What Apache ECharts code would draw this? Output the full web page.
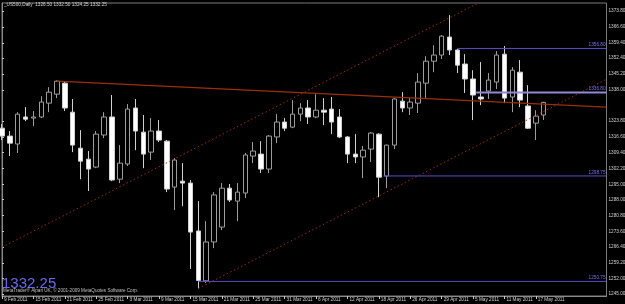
<!DOCTYPE html>
<html><head><meta charset="utf-8">
<script src="https://cdn.jsdelivr.net/npm/echarts@6/dist/echarts.min.js"></script>
<style>html,body{margin:0;padding:0;background:#000;overflow:hidden}#c{width:625px;height:304px}</style>
</head><body><div id="c"></div><script>
const symbolName = '_US500,Daily';
const copyrightText = 'MetaTrader® Alpari UK, © 2001-2009 MetaQuotes Software Corp.';
const dates = [
 '2011-02-09','2011-02-10','2011-02-11','2011-02-14','2011-02-15','2011-02-16','2011-02-17','2011-02-18','2011-02-21','2011-02-22','2011-02-23','2011-02-24','2011-02-25','2011-02-28',
 '2011-03-01','2011-03-02','2011-03-03','2011-03-04','2011-03-07','2011-03-08','2011-03-09','2011-03-10','2011-03-11','2011-03-14','2011-03-15','2011-03-16','2011-03-17','2011-03-18','2011-03-21','2011-03-22','2011-03-23','2011-03-24','2011-03-25','2011-03-28','2011-03-29','2011-03-30','2011-03-31',
 '2011-04-01','2011-04-04','2011-04-05','2011-04-06','2011-04-07','2011-04-08','2011-04-11','2011-04-12','2011-04-13','2011-04-14','2011-04-15','2011-04-18','2011-04-19','2011-04-20','2011-04-21','2011-04-25','2011-04-26','2011-04-27','2011-04-28','2011-04-29',
 '2011-05-02','2011-05-03','2011-05-04','2011-05-05','2011-05-06','2011-05-09','2011-05-10','2011-05-11','2011-05-12','2011-05-13','2011-05-16','2011-05-17','2011-05-18'
];
const futureSlots = ['f1','f2','f3','f4','f5','f6','f7','f8'];
const opens  = [1320.5,1316.9,1313.3,1325.6,1325.1,1325.6,1331.9,1336.0,1341.0,1327.8,1311.4,1306.4,1302.8,1317.4,1325.6,1297.3,1304.2,1329.7,1318.7,1309.6,1319.2,1314.6,1293.7,1296.4,1295.5,1273.7,1251.0,1268.7,1275.5,1293.2,1287.3,1291.0,1307.8,1308.7,1301.9,1316.5,1323.3,1321.0,1326.9,1329.7,1325.6,1328.7,1329.2,1325.6,1316.5,1308.7,1307.4,1311.0,1317.8,1298.7,1312.8,1332.8,1329.7,1331.9,1341.0,1351.0,1353.8,1362.0,1356.1,1349.7,1342.9,1334.7,1337.4,1341.5,1354.2,1334.7,1346.0,1330.6,1322.8,1326.50];
const closes = [1316.9,1313.7,1326.9,1324.6,1325.6,1332.4,1336.9,1341.9,1329.7,1312.8,1305.5,1301.9,1317.8,1325.6,1296.9,1304.6,1329.2,1319.2,1308.7,1319.2,1315.1,1292.8,1306.0,1295.5,1273.2,1251.2,1268.7,1290.1,1293.2,1287.8,1291.4,1308.3,1310.1,1301.9,1316.9,1323.3,1320.5,1326.9,1329.7,1325.6,1328.7,1327.8,1323.3,1316.5,1308.7,1307.4,1310.5,1318.3,1298.2,1312.8,1333.8,1329.7,1332.4,1341.5,1351.0,1353.8,1362.4,1356.1,1349.2,1342.9,1335.6,1333.8,1342.4,1353.8,1334.2,1346.9,1333.3,1320.5,1326.0,1332.25];
const lows   = [1315.1,1307.8,1309.2,1323.7,1321.5,1325.1,1327.8,1334.2,1328.3,1309.6,1297.3,1291.9,1302.3,1316.0,1296.4,1295.5,1303.3,1310.5,1302.3,1306.0,1314.2,1291.4,1283.2,1285.0,1256.4,1247.5,1250.0,1265.9,1274.1,1286.9,1278.2,1288.7,1304.6,1300.1,1300.1,1313.7,1319.2,1320.5,1323.7,1322.4,1325.1,1321.9,1317.8,1316.0,1304.6,1304.6,1297.8,1305.1,1289.1,1293.2,1311.0,1327.8,1326.5,1327.4,1333.8,1346.0,1352.0,1353.8,1345.6,1336.5,1324.2,1331.0,1333.8,1338.3,1331.9,1327.8,1330.1,1320.1,1315.1,1324.25];
const highs  = [1322.4,1319.2,1327.8,1330.1,1328.3,1335.1,1339.2,1342.2,1341.9,1333.8,1319.6,1310.1,1319.2,1327.8,1335.6,1312.8,1331.5,1333.8,1326.5,1325.1,1324.2,1315.1,1306.9,1304.6,1296.9,1287.3,1278.2,1291.4,1295.5,1295.1,1295.5,1309.2,1314.2,1314.6,1317.4,1326.9,1325.1,1333.3,1331.9,1333.3,1336.0,1334.2,1334.7,1329.2,1316.9,1317.8,1312.4,1318.7,1318.2,1313.0,1334.2,1336.9,1334.2,1345.6,1353.3,1358.3,1362.9,1372.0,1356.5,1354.2,1346.9,1350.6,1345.6,1355.6,1357.9,1348.3,1351.5,1340.1,1328.7,1332.50];
const xTickLabels = ['9 Feb 2011','15 Feb 2011','21 Feb 2011','25 Feb 2011','3 Mar 2011','9 Mar 2011','15 Mar 2011','21 Mar 2011','25 Mar 2011','31 Mar 2011','6 Apr 2011','12 Apr 2011','18 Apr 2011','26 Apr 2011','29 Apr 2011','5 May 2011','11 May 2011','17 May 2011'];
const yTickValues = [1245.00,1252.00,1259.20,1266.40,1273.60,1280.80,1288.00,1295.00,1302.20,1309.40,1316.60,1323.80,1338.00,1345.20,1352.40,1359.40,1366.60,1373.80];
const levelValues = [1356.80, 1336.80, 1298.75, 1250.75];
const levelStartBars = [58, 60.4, 48.6, 25];
const resistanceLine = [[7, 1341.9], [77, 1330.1]];
const channelUpper = [[0, 1266.3], [77, 1407.4]];
const channelLower = [[25, 1247.5], [77, 1342.8]];

const FONT = 'Liberation Sans';
const categories = dates.concat(futureSlots);
const lastIdx = categories.length - 1;
const last = opens.length - 1;
const lastPrice = closes[last];
const header = symbolName + '  ' + [opens[last], highs[last], lows[last], closes[last]].map(v => v.toFixed(2)).join(' ');
const candles = opens.map((o, i) => [o, closes[i], lows[i], highs[i]]);
const tickShown = (i) => i % 4 === 0 && i / 4 < xTickLabels.length;

const orange = '#9c2e0a';
const series = [{
  type: 'candlestick', xAxisIndex: 0, yAxisIndex: 0, data: candles, barWidth: 5,
  itemStyle: { color: '#000000', color0: '#ffffff', borderColor: '#9c9c9c', borderColor0: '#d0d0d0', borderWidth: 1 },
  markLine: {
    silent: true, symbol: 'none', animation: false,
    lineStyle: { width: 0, opacity: 0 },
    label: { show: true, position: 'end', distance: 1, formatter: lastPrice.toFixed(2), backgroundColor: '#ffffff', color: '#000000', fontSize: 4.7, fontFamily: FONT, padding: [1, 2, 0, 1] },
    data: [{ yAxis: lastPrice }]
  }
}, {
  type: 'line', xAxisIndex: 1, yAxisIndex: 0, data: resistanceLine, showSymbol: false, silent: true,
  lineStyle: { color: orange, width: 1.3 }
}, {
  type: 'line', xAxisIndex: 1, yAxisIndex: 0, data: channelUpper, showSymbol: false, silent: true,
  lineStyle: { color: orange, width: 1, type: [1.5, 2.5] }
}, {
  type: 'line', xAxisIndex: 1, yAxisIndex: 0, data: channelLower, showSymbol: false, silent: true,
  lineStyle: { color: orange, width: 1, type: [1.5, 2.5] }
}];
levelValues.forEach((v, k) => {
  const thick = k === 1;
  series.push({
    type: 'line', xAxisIndex: 1, yAxisIndex: 0, showSymbol: false, silent: true,
    data: [[levelStartBars[k], v], [lastIdx, v]],
    lineStyle: { color: thick ? '#8e8ad6' : '#5a4ec8', width: thick ? 2 : 1 },
    endLabel: { show: true, formatter: v.toFixed(2), align: 'right', verticalAlign: 'bottom', distance: 0, offset: [-1, -1], color: '#7a70e0', fontSize: 4.7, fontFamily: FONT }
  });
});

const chart = echarts.init(document.getElementById('c'), null, { renderer: 'canvas' });
chart.setOption({
  animation: false,
  backgroundColor: '#000000',
  textStyle: { fontFamily: FONT },
  title: [
    { text: header, left: 4, top: 2.5, padding: 0, textStyle: { color: '#d8d8d8', fontSize: 4.7, fontWeight: 'normal', fontFamily: FONT } },
    { text: lastPrice.toFixed(2), left: 2, top: 276, padding: 0, textStyle: { color: '#6a6ae8', fontSize: 15, fontWeight: 'normal', fontFamily: FONT } },
    { text: copyrightText, left: 3, top: 288.3, padding: 0, textStyle: { color: '#c0c0c0', fontSize: 4.6, fontWeight: 'normal', fontFamily: FONT } }
  ],
  grid: { left: 2, right: 18.5, top: 3, bottom: 8, show: true, borderColor: '#7a7a7a', borderWidth: 1, containLabel: false, outerBoundsMode: 'none' },
  xAxis: [{
    type: 'category', data: categories, boundaryGap: false,
    axisLine: { show: true, lineStyle: { color: '#8a8a8a', width: 1 } },
    axisTick: { show: true, interval: tickShown, length: 3, lineStyle: { color: '#c8c8c8' } },
    axisLabel: { show: true, interval: tickShown, align: 'left', margin: 1, padding: [0, 0, 0, 2], fontSize: 4.7, color: '#d0d0d0', fontFamily: FONT,
      formatter: (val, i) => tickShown(i) ? xTickLabels[i / 4] : '' },
    splitLine: { show: false }
  }, {
    type: 'value', min: 0, max: lastIdx, show: false, splitLine: { show: false }
  }],
  yAxis: [{
    type: 'value', position: 'right', min: 1244.1, max: 1377.5,
    axisLine: { show: true, lineStyle: { color: '#8a8a8a', width: 1 } },
    axisTick: { show: true, customValues: yTickValues, length: 2, lineStyle: { color: '#c8c8c8' } },
    axisLabel: { show: true, customValues: yTickValues, margin: 2, fontSize: 4.7, color: '#d0d0d0', fontFamily: FONT, formatter: v => v.toFixed(2) },
    splitLine: { show: false }
  }],
  series: series
});
</script></body></html>
